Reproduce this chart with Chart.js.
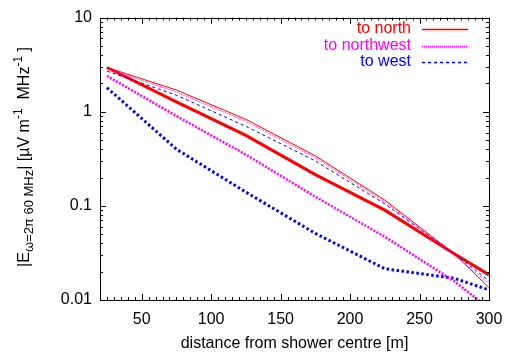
<!DOCTYPE html>
<html>
<head>
<meta charset="utf-8">
<script src="https://cdn.jsdelivr.net/npm/chart.js@4/dist/chart.umd.min.js"></script>
<style>
  html, body { margin: 0; padding: 0; background: #fff; }
  #wrap { width: 508px; height: 358px; }
</style>
</head>
<body>
<div id="wrap"><canvas id="myChart" width="508" height="358"></canvas></div>
<script>
// distance from shower centre [m]
const distance = [25, 75, 125, 175, 225, 275, 300];

// |E| in uV/m/MHz, thin and thick curves for each direction
const northThin = [2.95, 1.70, 0.83, 0.34, 0.115, 0.031, 0.0135];
const northwestThin = [2.85, 1.62, 0.79, 0.325, 0.11, 0.030, 0.015];
const westThin = [2.7, 1.50, 0.70, 0.30, 0.105, 0.031, 0.016];
const northThick = [2.95, 1.27, 0.56, 0.215, 0.09, 0.031, 0.0185];
const northwestThick = [2.4, 0.90, 0.35, 0.125, 0.047, 0.0158, 0.0082];
const westThick = [1.8, 0.40, 0.14, 0.051, 0.0215, 0.017, 0.0128];

const xTicks = [50, 100, 150, 200, 250, 300];
const yTicks = [0.01, 0.1, 1, 10];
const legendLabels = ["to north", "to northwest", "to west"];

const FONT = "'Liberation Sans', Arial, sans-serif";

const pts = (arr) => arr.map((v, i) => ({ x: distance[i], y: v }));

// gnuplot-like frame with inward ticks on all 4 sides
const framePlugin = {
  id: "frame",
  afterDatasetsDraw(chart) {
    const { ctx, chartArea: a, scales } = chart;
    const xs = scales.x, ys = scales.y;
    ctx.save();
    ctx.strokeStyle = "#000";
    ctx.lineWidth = 1;
    ctx.beginPath();
    // x ticks
    for (let v = 25; v <= 300; v += 5) {
      const px = Math.round(xs.getPixelForValue(v)) + 0.5;
      const len = v % 50 === 0 ? 6 : 3;
      ctx.moveTo(px, a.bottom); ctx.lineTo(px, a.bottom - len);
      ctx.moveTo(px, a.top); ctx.lineTo(px, a.top + len);
    }
    // y ticks
    for (let d = 0.01; d <= 10; d *= 10) {
      for (let m = 1; m <= 9; m++) {
        const v = d * m;
        if (v > 10.0001) break;
        const py = Math.round(ys.getPixelForValue(v)) + 0.5;
        const len = m === 1 ? 6 : 3;
        ctx.moveTo(a.left, py); ctx.lineTo(a.left + len, py);
        ctx.moveTo(a.right, py); ctx.lineTo(a.right - len, py);
      }
    }
    ctx.stroke();
    ctx.strokeRect(Math.round(a.left) + 0.5, Math.round(a.top) + 0.5,
      Math.round(a.right - a.left), Math.round(a.bottom - a.top));
    ctx.restore();
  },
};

// right aligned key, top right inside the plot
const keyPlugin = {
  id: "key",
  afterDraw(chart) {
    const { ctx } = chart;
    const styles = chart.data.datasets.slice(0, 3);
    ctx.save();
    ctx.font = "16px " + FONT;
    ctx.textAlign = "right";
    ctx.textBaseline = "middle";
    legendLabels.forEach((lab, i) => {
      const y = 29 + i * 16.5;
      const ds = styles[i];
      ctx.fillStyle = ds.borderColor;
      ctx.fillText(lab, 411, y);
      ctx.strokeStyle = ds.borderColor;
      ctx.lineWidth = ds.borderWidth + 0.3;
      ctx.setLineDash(ds.borderDash || []);
      ctx.beginPath();
      ctx.moveTo(422, Math.round(y) + 0.5);
      ctx.lineTo(468, Math.round(y) + 0.5);
      ctx.stroke();
    });
    ctx.restore();
  },
};

// y axis title with sub- and superscripts
const yTitlePlugin = {
  id: "ytitle",
  afterDraw(chart) {
    const { ctx } = chart;
    const parts = [
      ["|E", 16, 0],
      ["\u03c9=2\u03c0 60 MHz", 13, 4],
      ["| [\u00b5V m", 16, 0],
      ["-1", 12, -7],
      ["  MHz", 16, 0],
      ["-1", 12, -7],
      [" ]", 16, 0],
    ];
    ctx.save();
    let total = 0;
    parts.forEach((p) => {
      ctx.font = p[1] + "px " + FONT;
      total += ctx.measureText(p[0]).width;
    });
    ctx.translate(23, 157);
    ctx.rotate(-Math.PI / 2);
    ctx.fillStyle = "#000";
    ctx.textBaseline = "alphabetic";
    let x = -total / 2;
    parts.forEach((p) => {
      ctx.font = p[1] + "px " + FONT;
      ctx.fillText(p[0], x, 6 + p[2]);
      x += ctx.measureText(p[0]).width;
    });
    ctx.restore();
  },
};

const line = (label, data, color, width, dash) => ({
  label,
  data: pts(data),
  borderColor: color,
  backgroundColor: color,
  borderWidth: width,
  borderDash: dash,
  borderCapStyle: "butt",
  pointRadius: 0,
  tension: 0,
  fill: false,
});

const ctx = document.getElementById("myChart").getContext("2d");
const myChart = new Chart(ctx, {
  type: "line",
  data: {
    datasets: [
      line("to north", northThin, "#ff0000", 1, []),
      line("to northwest", northwestThin, "#ff00ff", 1, [1, 1]),
      line("to west", westThin, "#0000ff", 1, [3, 3]),
      line("to north (thick)", northThick, "#ff0000", 3, []),
      line("to northwest (thick)", northwestThick, "#ff00ff", 2.5, [2, 1.5]),
      line("to west (thick)", westThick, "#0000ff", 3, [2.5, 2.5]),
    ],
  },
  options: {
    responsive: false,
    animation: false,
    events: [],
    layout: { padding: { left: 0, right: 19, top: 13, bottom: 0 } },
    plugins: {
      legend: { display: false },
      tooltip: { enabled: false },
      title: { display: false },
    },
    scales: {
      x: {
        type: "linear",
        min: 20,
        max: 300,
        grid: { display: false, drawTicks: false },
        border: { display: false },
        afterBuildTicks: (s) => { s.ticks = xTicks.map((v) => ({ value: v })); },
        afterFit: (s) => { s.height = 58; s.paddingLeft = 0; s.paddingRight = 0; },
        ticks: {
          color: "#000",
          padding: 10,
          maxRotation: 0,
          autoSkip: false,
          font: { family: FONT, size: 16 },
        },
        title: {
          display: true,
          text: "distance from shower centre [m]",
          color: "#000",
          font: { family: FONT, size: 16 },
          padding: { top: 0, bottom: 5 },
        },
      },
      y: {
        type: "logarithmic",
        min: 0.01,
        max: 10,
        grid: { display: false, drawTicks: false },
        border: { display: false },
        afterBuildTicks: (s) => { s.ticks = yTicks.map((v) => ({ value: v })); },
        afterFit: (s) => { s.width = 100; },
        ticks: {
          color: "#000",
          padding: 8,
          autoSkip: false,
          font: { family: FONT, size: 16 },
          callback: (v) => String(v),
        },
      },
    },
  },
  plugins: [framePlugin, keyPlugin, yTitlePlugin],
});
</script>
</body>
</html>
